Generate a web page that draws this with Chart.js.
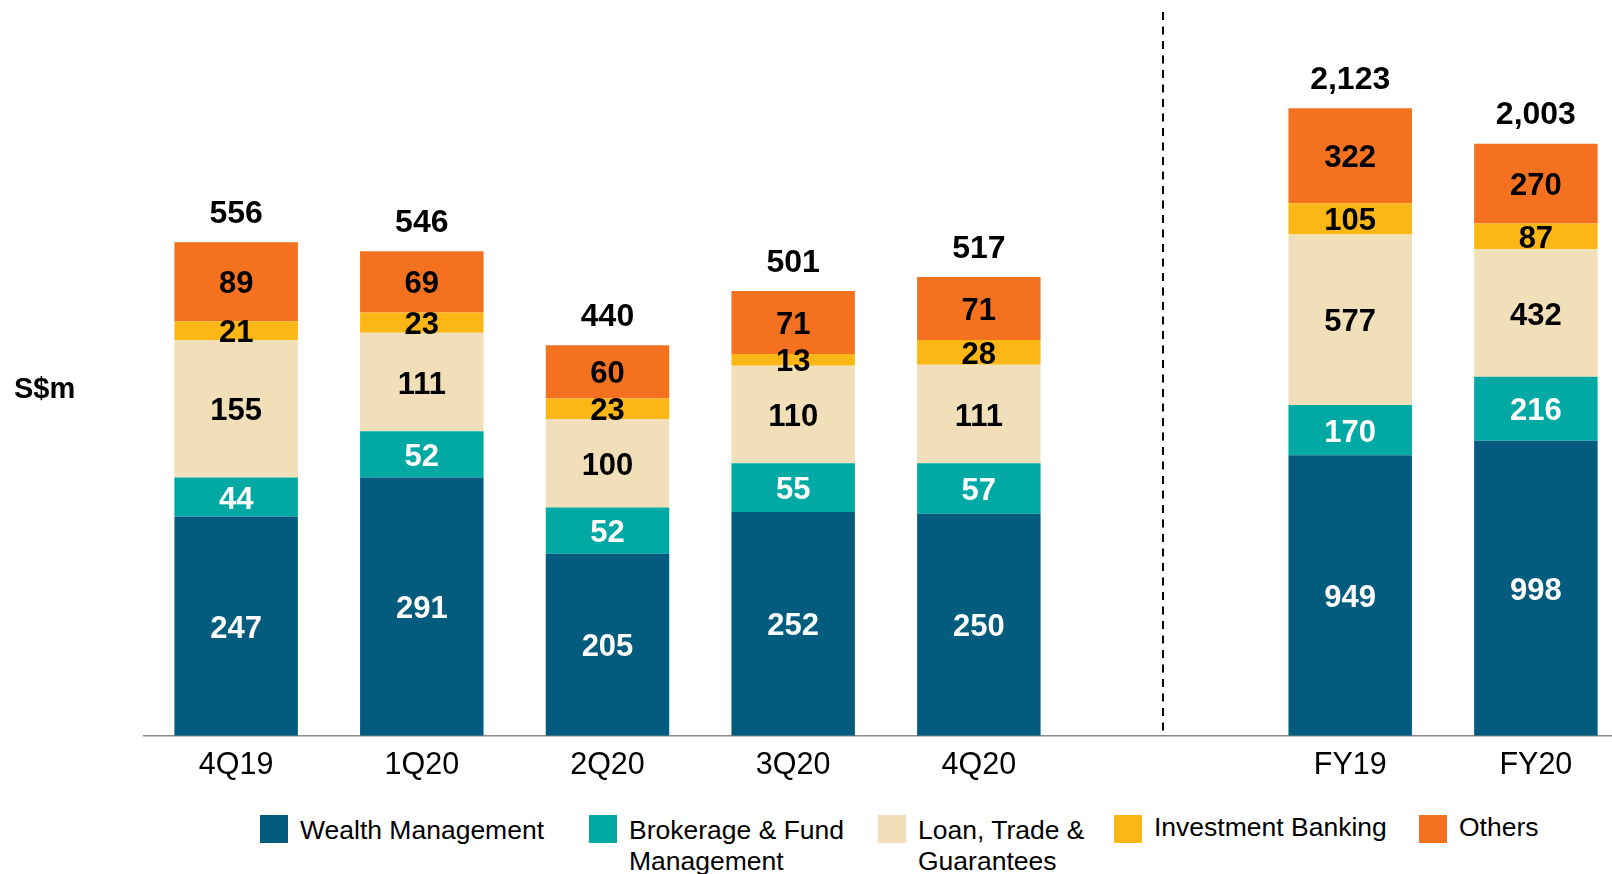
<!DOCTYPE html>
<html>
<head>
<meta charset="utf-8">
<title>Non-interest income</title>
<script src="https://cdn.jsdelivr.net/npm/chart.js@4.4.1/dist/chart.umd.min.js"></script>
<style>
  html, body { margin: 0; padding: 0; background: #fff; }
  body { width: 1612px; height: 874px; position: relative; overflow: hidden; font-family: "Liberation Sans", Arial, sans-serif; }
  #chart { position: absolute; left: 0; top: 0; }
  #unit { position: absolute; left: 14px; top: 374px; font-size: 29px; line-height: 29px; font-weight: bold; color: #000; }
  .item { position: absolute; top: 815px; display: flex; align-items: flex-start; }
  .swatch { width: 28px; height: 28px; flex: none; }
  .text { margin-left: 12px; font-size: 26.5px; line-height: 31px; color: #000; }
  .item.high .text { margin-top: -3px; }
</style>
</head>
<body>
<canvas id="chart" width="1612" height="800"></canvas>
<div id="unit">S$m</div>
<div id="legend"></div>
<script>
const quarters = ["4Q19", "1Q20", "2Q20", "3Q20", "4Q20"];
const years = ["FY19", "FY20"];
const seriesNames = ["Wealth Management", "Brokerage & Fund Management", "Loan, Trade & Guarantees", "Investment Banking", "Others"];

// quarterly, S$m
const wealthQ = [247, 291, 205, 252, 250];
const brokerageQ = [44, 52, 52, 55, 57];
const loanQ = [155, 111, 100, 110, 111];
const ibQ = [21, 23, 23, 13, 28];
const othersQ = [89, 69, 60, 71, 71];

// full year, S$m
const wealthFY = [949, 998];
const brokerageFY = [170, 216];
const loanFY = [577, 432];
const ibFY = [105, 87];
const othersFY = [322, 270];

const colors = ["#035C7E", "#00A9A4", "#F1DFB9", "#FCB716", "#F3711F"];
const labelColors = ["#fff", "#fff", "#000", "#000", "#000"];
const FONT = '"Liberation Sans", Arial, sans-serif';

const qSeries = [wealthQ, brokerageQ, loanQ, ibQ, othersQ];
const fySeries = [wealthFY, brokerageFY, loanFY, ibFY, othersFY];

// one empty slot between quarters and full years
const xLabels = [...quarters, "", ...years];
const fyStart = quarters.length + 1;

const datasets = [];
qSeries.forEach((arr, s) => {
    datasets.push({
        label: seriesNames[s],
        data: arr.map((v, i) => ({ x: i, y: v })),
        backgroundColor: colors[s],
        yAxisID: "yQ",
        stack: "all",
        labelColor: labelColors[s],
        series: s,
        group: qSeries
    });
});
fySeries.forEach((arr, s) => {
    datasets.push({
        label: seriesNames[s],
        data: arr.map((v, i) => ({ x: fyStart + i, y: v })),
        backgroundColor: colors[s],
        yAxisID: "yF",
        stack: "all",
        labelColor: labelColors[s],
        series: s,
        group: fySeries
    });
});

const labelPlugin = {
    id: "barLabels",
    afterDatasetsDraw(chart) {
        const ctx = chart.ctx;
        ctx.save();
        ctx.textAlign = "center";
        ctx.textBaseline = "middle";

        chart.data.datasets.forEach((ds, d) => {
            const meta = chart.getDatasetMeta(d);
            meta.data.forEach((bar, i) => {
                ctx.font = "bold 31px " + FONT;
                ctx.fillStyle = ds.labelColor;
                ctx.fillText(ds.data[i].y, bar.x, (bar.y + bar.base) / 2 + 3);

                // total on top of the stack
                if (ds.series === seriesNames.length - 1) {
                    const total = ds.group.reduce((a, arr) => a + arr[i], 0);
                    ctx.font = "bold 32px " + FONT;
                    ctx.fillStyle = "#000";
                    ctx.fillText(total.toLocaleString("en-US"), bar.x, bar.y - 28);
                }
            });
        });

        // dashed divider between quarters and full years
        const x = chart.scales.x.getPixelForValue(quarters.length) - 1.5;
        ctx.beginPath();
        ctx.setLineDash([8, 6.5]);
        ctx.lineWidth = 2;
        ctx.strokeStyle = "#000";
        ctx.moveTo(x, 12);
        ctx.lineTo(x, chart.chartArea.bottom);
        ctx.stroke();
        ctx.restore();
    }
};

new Chart(document.getElementById("chart"), {
    type: "bar",
    data: { datasets: datasets },
    options: {
        responsive: false,
        animation: false,
        layout: { padding: { left: 143.3, right: 0, top: 0, bottom: 0 } },
        datasets: { bar: { barPercentage: 0.665, categoryPercentage: 1, borderWidth: 0 } },
        plugins: { legend: { display: false }, tooltip: { enabled: false } },
        scales: {
            x: {
                type: "linear",
                min: -0.5,
                max: 7.41,
                offset: false,
                grid: { display: false, drawTicks: false, offset: false },
                border: { display: true, color: "#8c8c8c", width: 1.5 },
                afterBuildTicks: axis => { axis.ticks = xLabels.map((l, i) => ({ value: i })); },
                afterFit: axis => { axis.height = 64.3; },
                ticks: {
                    autoSkip: false,
                    maxRotation: 0,
                    padding: 12,
                    color: "#000",
                    font: { size: 30.5, family: FONT },
                    callback: v => xLabels[v]
                }
            },
            yQ: { type: "linear", position: "left", stacked: true, display: false, min: 0, max: 829 },
            yF: { type: "linear", position: "right", stacked: true, display: false, min: 0, max: 2489 }
        }
    },
    plugins: [labelPlugin]
});

// legend (html so the long names can wrap like the original)
const legendLeft = [260, 589, 878, 1114, 1419];
const legendWidth = [null, 225, 180, null, null];
const legend = document.getElementById("legend");
seriesNames.forEach((name, s) => {
    const item = document.createElement("div");
    item.className = "item" + (s >= 3 ? " high" : "");
    item.style.left = legendLeft[s] + "px";
    const sw = document.createElement("div");
    sw.className = "swatch";
    sw.style.background = colors[s];
    const tx = document.createElement("div");
    tx.className = "text";
    tx.textContent = name;
    if (legendWidth[s]) tx.style.width = legendWidth[s] + "px";
    else tx.style.whiteSpace = "nowrap";
    item.appendChild(sw);
    item.appendChild(tx);
    legend.appendChild(item);
});
</script>
</body>
</html>
